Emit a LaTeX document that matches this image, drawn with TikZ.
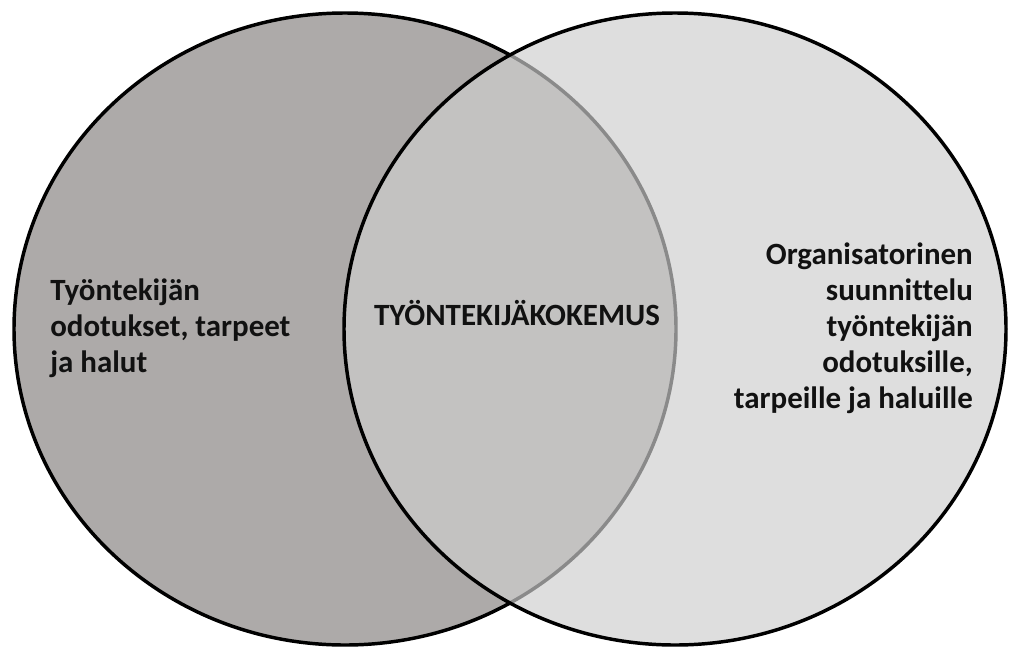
\documentclass[tikz,border=0pt]{standalone}
\usepackage{fontspec}
\setmainfont{Carlito}[RawFeature=-liga]
\definecolor{leftfill}{HTML}{ADAAA9}
\definecolor{rightfill}{HTML}{CECECE}
\definecolor{txt}{HTML}{111111}
\tikzset{
  venn/.style={line width=2.6pt, draw=black},
  lbl/.style={font=\bfseries\fontsize{23.2}{27}\selectfont, text=txt, inner sep=0pt}
}
\begin{document}
\begin{tikzpicture}[x=0.75pt, y=-0.75pt]
\useasboundingbox (0,0) rectangle (1009,646);
\begin{scope}
\clip (0,0) rectangle (1009,646);
\fill[leftfill] (345,329) ellipse [x radius=331, y radius=316];
\draw[venn] (345,329) ellipse [x radius=331, y radius=316];
\fill[rightfill, fill opacity=0.67] (675,329) ellipse [x radius=331, y radius=316];
\draw[venn] (675,329) ellipse [x radius=331, y radius=316];
\end{scope}
\node[lbl, align=left, anchor=west] (left) at (50,328) {Työntekijän\\odotukset, tarpeet\\ja halut};
\node[lbl] (mid) at (517,313) {TYÖNTEKIJÄKOKEMUS};
\node[lbl, align=right, anchor=east] (right) at (973,328) {Organisatorinen\\suunnittelu\\työntekijän\\odotuksille,\\tarpeille ja haluille};
\end{tikzpicture}
\end{document}
